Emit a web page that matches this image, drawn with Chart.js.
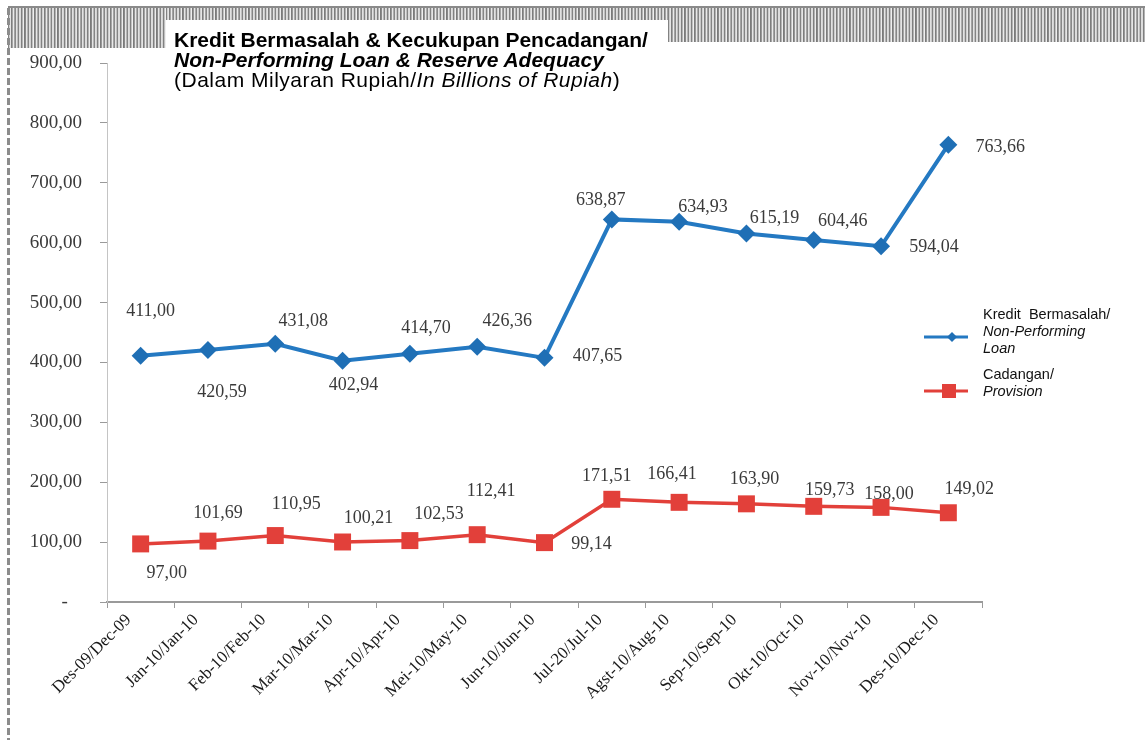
<!DOCTYPE html>
<html>
<head>
<meta charset="utf-8">
<script src="https://cdn.jsdelivr.net/npm/chart.js@4/dist/chart.umd.min.js"></script>
<style>
html,body{margin:0;padding:0;background:#fff;}
#wrap{position:relative;width:1145px;height:740px;overflow:hidden;background:#fff;}
#c{position:absolute;left:0;top:0;}
.hatch{position:absolute;background:repeating-linear-gradient(90deg,#7a7a7a 0px,#8a8a8a 1px,#dcdcdc 1.6px,#efefef 2.4px,#9a9a9a 3.3px);border-top:2px solid #8a8a8a;box-sizing:border-box;}
#dash{position:absolute;left:7px;top:8px;width:3px;height:732px;background:repeating-linear-gradient(180deg,#8c8c8c 0px,#8c8c8c 7px,transparent 7px,transparent 10px);}
#title{position:absolute;left:174px;top:30px;font-family:"Liberation Sans",Arial,sans-serif;font-size:21px;line-height:20px;color:#000;white-space:nowrap;}
.leg{position:absolute;font-family:"Liberation Sans",Arial,sans-serif;font-size:14.5px;line-height:17px;color:#111;white-space:nowrap;}
.sym{position:absolute;}
</style>
</head>
<body>
<div id="wrap">
  <canvas id="c" width="1145" height="740"></canvas>
  <div class="hatch" style="left:8px;top:6px;width:158px;height:42px;"></div>
  <div class="hatch" style="left:166px;top:6px;width:502px;height:14px;"></div>
  <div class="hatch" style="left:668px;top:6px;width:477px;height:36px;"></div>
  <div id="dash"></div>
  <div id="title">
    <div style="font-weight:bold;">Kredit Bermasalah &amp; Kecukupan Pencadangan/</div>
    <div style="font-weight:bold;font-style:italic;">Non-Performing Loan &amp; Reserve Adequacy</div>
    <div style="letter-spacing:0.5px;">(Dalam Milyaran Rupiah/<i>In Billions of Rupiah</i>)</div>
  </div>
  <svg class="sym" style="left:922px;top:327px;" width="48" height="20">
    <line x1="2" y1="10" x2="46" y2="10" stroke="#2479C2" stroke-width="3"/>
    <polygon points="30,5 35,10 30,15 25,10" fill="#1F6FB5"/>
  </svg>
  <div class="leg" style="left:983px;top:306px;">Kredit&nbsp; Bermasalah/<br><i>Non-Performing</i><br><i>Loan</i></div>
  <svg class="sym" style="left:922px;top:381px;" width="48" height="20">
    <line x1="2" y1="10" x2="46" y2="10" stroke="#E2403A" stroke-width="3"/>
    <rect x="20" y="3" width="14" height="14" fill="#E2403A"/>
  </svg>
  <div class="leg" style="left:983px;top:366px;">Cadangan/<br><i>Provision</i></div>
</div>
<script>
const categories = ['Des-09/Dec-09','Jan-10/Jan-10','Feb-10/Feb-10','Mar-10/Mar-10','Apr-10/Apr-10','Mei-10/May-10','Jun-10/Jun-10','Jul-20/Jul-10','Agst-10/Aug-10','Sep-10/Sep-10','Okt-10/Oct-10','Nov-10/Nov-10','Des-10/Dec-10'];
const nplValues = [411.00, 420.59, 431.08, 402.94, 414.70, 426.36, 407.65, 638.87, 634.93, 615.19, 604.46, 594.04, 763.66];
const provisionValues = [97.00, 101.69, 110.95, 100.21, 102.53, 112.41, 99.14, 171.51, 166.41, 163.90, 159.73, 158.00, 149.02];
const yTickValues = [0, 100, 200, 300, 400, 500, 600, 700, 800, 900];

function fmt(v){ return v.toFixed(2).replace('.', ','); }

const valueLabelPlugin = {
  id: 'valueLabels',
  afterDatasetsDraw(chart, args, opts) {
    const ctx = chart.ctx;
    ctx.save();
    ctx.font = opts.font;
    ctx.fillStyle = opts.color;
    ctx.textAlign = 'center';
    ctx.textBaseline = 'middle';
    chart.data.datasets.forEach((ds, di) => {
      const meta = chart.getDatasetMeta(di);
      const offs = opts.offsets[di];
      meta.data.forEach((pt, i) => {
        const o = offs[i];
        ctx.fillText(fmt(ds.data[i]), pt.x + o[0], pt.y + o[1]);
      });
    });
    ctx.restore();
  }
};

new Chart(document.getElementById('c'), {
  type: 'line',
  data: {
    labels: categories,
    datasets: [
      {
        label: 'Kredit Bermasalah/Non-Performing Loan',
        data: nplValues,
        borderColor: '#2479C2',
        backgroundColor: '#1F6FB5',
        borderWidth: 4,
        pointStyle: 'rectRot',
        pointRadius: 9,
        pointBorderWidth: 0,
        pointBackgroundColor: '#1F6FB5',
        tension: 0
      },
      {
        label: 'Cadangan/Provision',
        data: provisionValues,
        borderColor: '#E2403A',
        backgroundColor: '#E2403A',
        borderWidth: 3.5,
        pointStyle: 'rect',
        pointRadius: 12,
        pointBorderWidth: 0,
        pointBackgroundColor: '#E2403A',
        tension: 0
      }
    ]
  },
  plugins: [valueLabelPlugin],
  options: {
    responsive: false,
    animation: false,
    layout: { padding: { left: 0, right: 163, top: 63, bottom: 0 } },
    plugins: {
      legend: { display: false },
      tooltip: { enabled: false },
      title: { display: false },
      valueLabels: {
        font: '18px "Liberation Serif", serif',
        color: '#3a3a3a',
        offsets: [
          [[10,-45],[14,42],[28,-23],[11,25],[16,-25],[30,-25],[53,-2],[-11,-19],[24,-14],[28,-15],[29,-19],[53,1],[52,3]],
          [[26,29],[10,-28],[21,-31],[26,-24],[29,-26],[14,-43],[47,2],[-5,-23],[-7,-28],[8,-25],[16,-16],[8,-13],[21,-23]]
        ]
      }
    },
    scales: {
      x: {
        offset: true,
        grid: { display: true, offset: true, drawOnChartArea: false, drawTicks: true, tickLength: 6, color: '#9a9a9a' },
        border: { display: true, color: '#9a9a9a', width: 2 },
        ticks: {
          autoSkip: false, minRotation: 45, maxRotation: 45, padding: 2, labelOffset: -12,
          font: { family: '"Liberation Serif", serif', size: 17 }, color: '#1a1a1a'
        },
        afterFit(scale) { scale.height = 138; }
      },
      y: {
        min: 0, max: 900,
        afterBuildTicks(scale) { scale.ticks = yTickValues.map(v => ({ value: v })); },
        grid: { display: true, drawOnChartArea: false, drawTicks: true, tickLength: 7, color: '#9a9a9a' },
        border: { display: true, color: '#c4c4c4', width: 1 },
        ticks: {
          padding: 18,
          font: { family: '"Liberation Serif", serif', size: 19 }, color: '#3a3a3a',
          callback: (v) => v === 0 ? '-   ' : fmt(v)
        },
        afterFit(scale) { scale.width = 107; }
      }
    }
  }
});
</script>
</body>
</html>
